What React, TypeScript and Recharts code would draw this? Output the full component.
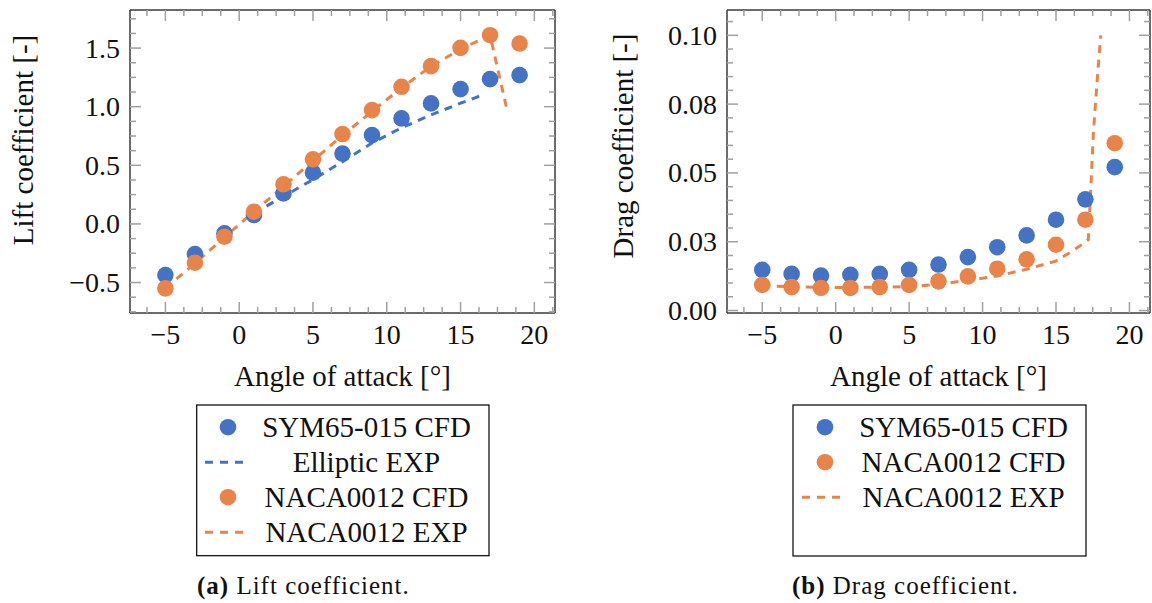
import React from "react";
import { ComposedChart, Scatter, Line, XAxis, YAxis } from "recharts";

const BLUE = "#4472C4";
const ORANGE = "#E8844A";
const FRAME = "#3a3a3a";
const TICK = "#a0a0a0";
const FONT = "'Liberation Serif', 'DejaVu Serif', serif";
const DASH = "8 6.5";

// angle of attack for the CFD points
const angles = [-5, -3, -1, 1, 3, 5, 7, 9, 11, 13, 15, 17, 19];

// lift
const liftSym = [-0.436, -0.257, -0.08, 0.076, 0.26, 0.437, 0.6, 0.758, 0.9, 1.028, 1.15, 1.235, 1.269];
const liftNaca = [-0.55, -0.331, -0.109, 0.104, 0.338, 0.551, 0.767, 0.971, 1.17, 1.346, 1.502, 1.61, 1.539];
const ellipticAngles = [1, 3, 5, 7, 9, 11, 13, 15, 16.5];
const ellipticLift = [0.09, 0.235, 0.378, 0.531, 0.69, 0.82, 0.93, 1.03, 1.1];
const nacaExpLiftAngles = [-5, -3, -1, 1, 3, 5, 7, 9, 11, 13, 15, 17, 18.1];
const nacaExpLift = [-0.55, -0.335, -0.115, 0.105, 0.32, 0.54, 0.755, 0.96, 1.16, 1.345, 1.49, 1.61, 1.0];

// drag
const dragSym = [0.0148, 0.0133, 0.0127, 0.013, 0.0133, 0.0148, 0.0167, 0.0194, 0.023, 0.0273, 0.033, 0.0404, 0.0521];
const dragNaca = [0.0093, 0.0085, 0.0082, 0.0082, 0.0085, 0.0093, 0.0106, 0.0124, 0.0152, 0.0186, 0.0239, 0.033, 0.0608];
const nacaExpDragAngles = [-5, -3, -1, 1, 3, 5, 7, 9, 11, 13, 15, 16, 17, 17.2, 17.35, 17.55, 17.85, 18.05];
const nacaExpDrag = [0.009, 0.0086, 0.0084, 0.0084, 0.0085, 0.0087, 0.0095, 0.011, 0.0125, 0.015, 0.018, 0.0212, 0.0248, 0.0258, 0.042, 0.065, 0.087, 0.1];

// ticks
const xMajor = [-5, 0, 5, 10, 15, 20];
const xLabels = ["\u22125", "0", "5", "10", "15", "20"];
const liftMajor = [-0.5, 0, 0.5, 1, 1.5];
const liftLabels = ["\u22120.5", "0.0", "0.5", "1.0", "1.5"];
const dragMajor = [0, 0.025, 0.05, 0.075, 0.1];
const dragLabels = ["0.00", "0.03", "0.05", "0.08", "0.10"];

const X_DOMAIN = [-7.4, 21.4];
const LIFT_DOMAIN = [-0.76, 1.825];
const DRAG_DOMAIN = [-0.0009, 0.1092];

const zip = (xs: number[], ys: number[]) => xs.map((x, i) => ({ x, y: ys[i] }));

const steps = (d: number[], step: number) => {
  const out: number[] = [];
  for (let k = Math.ceil(d[0] / step); k <= Math.floor(d[1] / step); k++) {
    out.push(Math.round(k * step * 1e6) / 1e6);
  }
  return out;
};

const labelStyle = { fontFamily: FONT, fontSize: 28, fill: "#111" };

const makeTick = (side: string, majors: number[], labels: string[]) => (p: any) => {
  const v = p.payload.value;
  const i = majors.findIndex((m) => Math.abs(m - v) < 1e-9);
  const len = i >= 0 ? 11 : 6;
  const { x, y } = p;
  const line = { stroke: TICK, strokeWidth: 1.5 };
  if (side === "bottom") {
    return (
      <g>
        <line x1={x} x2={x} y1={y} y2={y - len} {...line} />
        {i >= 0 && (
          <text x={x} y={y + 31} textAnchor="middle" style={labelStyle}>
            {labels[i]}
          </text>
        )}
      </g>
    );
  }
  if (side === "top") return <line x1={x} x2={x} y1={y} y2={y + len} {...line} />;
  if (side === "left") {
    return (
      <g>
        <line x1={x} x2={x + len} y1={y} y2={y} {...line} />
        {i >= 0 && (
          <text x={x - 10} y={y + 9.5} textAnchor="end" style={labelStyle}>
            {labels[i]}
          </text>
        )}
      </g>
    );
  }
  return <line x1={x} x2={x - len} y1={y} y2={y} {...line} />;
};

const dot = (color: string) => (p: any) => <circle cx={p.cx} cy={p.cy} r={8.3} fill={color} />;

function Plot(props: {
  width: number;
  margin: any;
  yDomain: number[];
  yTicks: number[];
  yMajor: number[];
  yLabels: string[];
  sym: any[];
  naca: any[];
  lines: { data: any[]; color: string }[];
}) {
  const xTicks = steps(X_DOMAIN, 1.25);
  const axisLine = { stroke: FRAME, strokeWidth: 1.5 };
  return (
    <ComposedChart width={props.width} height={360} margin={props.margin}>
      <XAxis xAxisId="b" dataKey="x" type="number" domain={X_DOMAIN} allowDataOverflow ticks={xTicks}
        interval={0} height={1} tickSize={0} tickMargin={0} tickLine={false} axisLine={axisLine}
        tick={makeTick("bottom", xMajor, xLabels)} />
      <XAxis xAxisId="t" dataKey="x" orientation="top" type="number" domain={X_DOMAIN} allowDataOverflow ticks={xTicks}
        interval={0} height={1} tickSize={0} tickMargin={0} tickLine={false} axisLine={axisLine}
        tick={makeTick("top", xMajor, xLabels)} />
      <YAxis yAxisId="l" dataKey="y" type="number" domain={props.yDomain} allowDataOverflow ticks={props.yTicks}
        interval={0} width={1} tickSize={0} tickMargin={0} tickLine={false} axisLine={axisLine}
        tick={makeTick("left", props.yMajor, props.yLabels)} />
      <YAxis yAxisId="r" dataKey="y" orientation="right" type="number" domain={props.yDomain} allowDataOverflow
        ticks={props.yTicks} interval={0} width={1} tickSize={0} tickMargin={0} tickLine={false} axisLine={axisLine}
        tick={makeTick("right", props.yMajor, props.yLabels)} />
      {props.lines.map((l, i) => (
        <Line key={i} xAxisId="b" yAxisId="l" data={l.data} dataKey="y" type="linear" dot={false}
          stroke={l.color} strokeWidth={3} strokeDasharray={DASH} isAnimationActive={false} />
      ))}
      <Scatter xAxisId="b" yAxisId="l" data={props.sym} dataKey="y" shape={dot(BLUE)} isAnimationActive={false} />
      <Scatter xAxisId="b" yAxisId="l" data={props.naca} dataKey="y" shape={dot(ORANGE)} isAnimationActive={false} />
    </ComposedChart>
  );
}

function LegendRow(p: { kind: string; color: string; sx: number; tx: number; base: number; label: string }) {
  const cy = p.base - 9.5;
  return (
    <g>
      {p.kind === "dot" ? (
        <circle cx={p.sx} cy={cy} r={8.3} fill={p.color} />
      ) : (
        <line x1={p.sx - 21} x2={p.sx + 21} y1={cy} y2={cy} stroke={p.color} strokeWidth={3} strokeDasharray="8 7" />
      )}
      <text x={p.tx} y={p.base} textAnchor="middle">{p.label}</text>
    </g>
  );
}

export default function App() {
  return (
    <div style={{ position: "absolute", left: 0, top: 0, width: 1152, height: 603, background: "#fff", fontFamily: FONT }}>
      <div style={{ position: "absolute", left: 0, top: 0 }}>
        <Plot width={580} margin={{ top: 9, left: 129, right: 24, bottom: 46 }}
          yDomain={LIFT_DOMAIN} yTicks={steps(LIFT_DOMAIN, 0.125)} yMajor={liftMajor} yLabels={liftLabels}
          sym={zip(angles, liftSym)} naca={zip(angles, liftNaca)}
          lines={[
            { data: zip(ellipticAngles, ellipticLift), color: BLUE },
            { data: zip(nacaExpLiftAngles, nacaExpLift), color: ORANGE },
          ]} />
      </div>
      <div style={{ position: "absolute", left: 600, top: 0 }}>
        <Plot width={552} margin={{ top: 9, left: 126, right: 1, bottom: 46 }}
          yDomain={DRAG_DOMAIN} yTicks={steps(DRAG_DOMAIN, 0.005)} yMajor={dragMajor} yLabels={dragLabels}
          sym={zip(angles, dragSym)} naca={zip(angles, dragNaca)}
          lines={[{ data: zip(nacaExpDragAngles, nacaExpDrag), color: ORANGE }]} />
      </div>
      <svg width={1152} height={603} style={{ position: "absolute", left: 0, top: 0, pointerEvents: "none" }}
        fontFamily={FONT} fontSize={29} fill="#111">
        <text transform="translate(33,140) rotate(-90)" textAnchor="middle">Lift coefficient [-]</text>
        <text transform="translate(633,146) rotate(-90)" textAnchor="middle">Drag coefficient [-]</text>
        <text x={342.5} y={386} textAnchor="middle">Angle of attack [°]</text>
        <text x={938.5} y={386} textAnchor="middle">Angle of attack [°]</text>

        <rect x={196.7} y={405} width={292.3} height={150.7} fill="none" stroke="#000" strokeWidth={1.2} />
        <LegendRow kind="dot" color={BLUE} sx={228} tx={366.5} base={436.7} label="SYM65-015 CFD" />
        <LegendRow kind="dash" color={BLUE} sx={226} tx={366.5} base={471.7} label="Elliptic EXP" />
        <LegendRow kind="dot" color={ORANGE} sx={228} tx={366.5} base={506.7} label="NACA0012 CFD" />
        <LegendRow kind="dash" color={ORANGE} sx={226} tx={366.5} base={541.7} label="NACA0012 EXP" />

        <rect x={793} y={405} width={293} height={151} fill="none" stroke="#000" strokeWidth={1.2} />
        <LegendRow kind="dot" color={BLUE} sx={825} tx={963.5} base={436.7} label="SYM65-015 CFD" />
        <LegendRow kind="dot" color={ORANGE} sx={825} tx={963.5} base={471.7} label="NACA0012 CFD" />
        <LegendRow kind="dash" color={ORANGE} sx={823} tx={963.5} base={506.7} label="NACA0012 EXP" />

        <text x={197} y={594} fontSize={25} letterSpacing={1}>
          <tspan fontWeight="bold">(a)</tspan> Lift coefficient.
        </text>
        <text x={792} y={594} fontSize={25} letterSpacing={1}>
          <tspan fontWeight="bold">(b)</tspan> Drag coefficient.
        </text>
      </svg>
    </div>
  );
}
